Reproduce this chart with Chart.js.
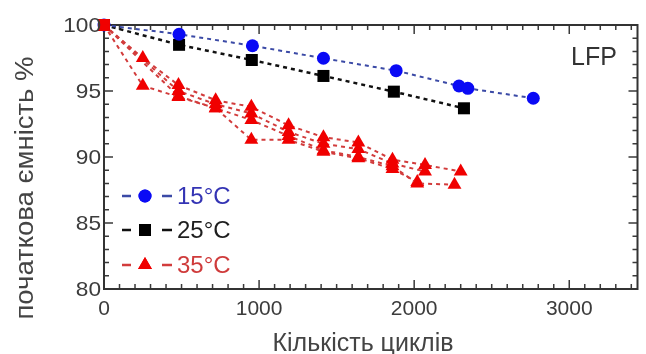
<!DOCTYPE html>
<html><head><meta charset="utf-8">
<script src="https://cdn.jsdelivr.net/npm/chart.js@4.4.0/dist/chart.umd.min.js"></script>
<style>html,body{margin:0;padding:0;background:#fff;overflow:hidden}#wrap{width:646px;height:354px}</style>
</head><body><div id="wrap"><canvas id="c" width="646" height="354"></canvas></div>
<script>
// ---- data ----
const xTicks = [0, 1000, 2000, 3000];
const yTicks = [80, 85, 90, 95, 100];
const xTitle = 'Кількість циклів';
const yTitle = 'початкова ємність %';
const annotation = 'LFP';
const seriesNames = ['15°C', '25°C', '35°C'];

const cycles15 = [0, 484, 957, 1415, 1884, 2289, 2346, 2768];
const cap15    = [100, 99.3, 98.43, 97.48, 96.54, 95.38, 95.2, 94.45];

const cycles25 = [0, 484, 953, 1415, 1869, 2321];
const cap25    = [100, 98.5, 97.35, 96.14, 94.95, 93.69];

const cycles35a = [0, 250, 480, 720, 950, 1190, 1415, 1640, 1860, 2070, 2300];
const cap35a    = [100, 97.5, 95.45, 94.3, 93.8, 92.4, 91.5, 91.1, 89.8, 89.4, 88.9];
const cycles35b = [0, 480, 720, 950, 1190, 1415, 1640, 1860, 2070];
const cap35b    = [100, 95.0, 94.0, 93.3, 91.9, 91.0, 90.6, 89.5, 88.9];
const cycles35c = [0, 250, 480, 720, 950, 1190, 1415, 1640, 1860, 2020, 2260];
const cap35c    = [100, 95.4, 94.55, 93.7, 92.8, 91.6, 90.5, 90.0, 89.3, 88.0, 87.9];
const cycles35d = [0, 480, 720, 950, 1190, 1415, 1640, 1860, 2020];
const cap35d    = [100, 94.6, 93.7, 91.3, 91.3, 90.4, 89.9, 89.1, 88.1];

const X_MIN = 0, X_MAX = 3440, Y_MIN = 80, Y_MAX = 100;

// ---- styles ----
const BLUE = '#0a0af5', BLUE_LINE = '#3b4aa6';
const BLACK = '#000000', BLACK_LINE = '#111111';
const RED = '#f00000', RED_LINE = '#d23c3c';
const FONT = '"Liberation Sans", Arial, sans-serif';

function pts(xs, ys) { return xs.map((x, i) => ({x: x, y: ys[i]})); }

function redSet(xs, ys) {
  return {
    data: pts(xs, ys), borderColor: RED_LINE, backgroundColor: RED,
    borderWidth: 2, borderDash: [4, 4], showLine: true, clip: false, order: 1,
    pointStyle: c => c.dataIndex === 0 ? 'rect' : 'triangle',
    pointRadius: c => c.dataIndex === 0 ? 8 : 8,
    pointBorderWidth: 0, pointBorderColor: RED
  };
}

const datasets = [
  {data: pts(cycles15, cap15), borderColor: BLUE_LINE, backgroundColor: BLUE, borderWidth: 2,
   borderDash: [4, 4], showLine: true, clip: false, order: 2, pointStyle: 'circle', pointRadius: 6.5,
   pointBorderWidth: 0},
  {data: pts(cycles25, cap25), borderColor: BLACK_LINE, backgroundColor: BLACK, borderWidth: 2.5,
   borderDash: [4, 4], showLine: true, clip: false, order: 3, pointStyle: 'rect', pointRadius: 8.5,
   pointBorderWidth: 0},
  redSet(cycles35a, cap35a), redSet(cycles35b, cap35b), redSet(cycles35c, cap35c), redSet(cycles35d, cap35d)
];

function txt(ctx, s, x, y, size, color, align, baseline, rot, sx) {
  ctx.save(); ctx.translate(x, y); if (rot) ctx.rotate(rot); if (sx) ctx.scale(sx, 1);
  ctx.font = size + 'px ' + FONT; ctx.fillStyle = color; ctx.textAlign = align; ctx.textBaseline = baseline;
  ctx.fillText(s, 0, 0); ctx.restore();
}

const framePlugin = {
  id: 'frame',
  beforeDatasetsDraw(chart) {
    const ctx = chart.ctx, a = chart.chartArea, xs = chart.scales.x, ys = chart.scales.y;
    ctx.save();
    ctx.strokeStyle = '#3a3a3a'; ctx.lineWidth = 1.5;
    for (let v = 100; v < X_MAX; v += 100) {
      const px = xs.getPixelForValue(v); const major = v % 1000 === 0; const L = major ? 9 : 5;
      ctx.beginPath(); ctx.moveTo(px, a.bottom); ctx.lineTo(px, a.bottom - L);
      ctx.moveTo(px, a.top); ctx.lineTo(px, a.top + L); ctx.stroke();
    }
    for (let v = 81; v < Y_MAX; v += 1) {
      const py = ys.getPixelForValue(v); const major = v % 5 === 0; const L = major ? 9 : 5;
      ctx.beginPath(); ctx.moveTo(a.left, py); ctx.lineTo(a.left + L, py);
      ctx.moveTo(a.right, py); ctx.lineTo(a.right - L, py); ctx.stroke();
    }
    ctx.lineWidth = 2; ctx.strokeStyle = '#333';
    ctx.strokeRect(a.left, a.top, a.right - a.left, a.bottom - a.top);
    ctx.restore();
  },
  afterDraw(chart) {
    const ctx = chart.ctx, a = chart.chartArea, xs = chart.scales.x, ys = chart.scales.y;
    const TC = '#3c3c3c';
    yTicks.forEach(v => txt(ctx, String(v), a.left - 3, ys.getPixelForValue(v) + 1, 21, TC, 'right', 'middle', 0, 1.08));
    xTicks.forEach(v => txt(ctx, String(v), xs.getPixelForValue(v), a.bottom + 10, 21, TC, 'center', 'top'));
    txt(ctx, xTitle, 363, 351, 25, '#444', 'center', 'alphabetic');
    txt(ctx, yTitle, 33, 188, 25, '#444', 'center', 'alphabetic', -Math.PI / 2, 1.1);
    txt(ctx, annotation, 594, 65, 25, '#333', 'center', 'alphabetic');
    // legend
    const rows = [
      {y: 196, col: BLUE, line: BLUE_LINE, tc: '#3434b4', style: 'circle', r: 6.5},
      {y: 230, col: BLACK, line: BLACK_LINE, tc: '#1e1e1e', style: 'rect', r: 8.5},
      {y: 265, col: RED, line: RED_LINE, tc: '#cf3b3b', style: 'triangle', r: 8}
    ];
    rows.forEach((r, i) => {
      ctx.save(); ctx.strokeStyle = r.line; ctx.lineWidth = 2.5;
      ctx.beginPath(); ctx.moveTo(122, r.y); ctx.lineTo(131, r.y);
      ctx.moveTo(162, r.y); ctx.lineTo(172, r.y); ctx.stroke(); ctx.restore();
      ctx.save(); ctx.fillStyle = r.col;
      Chart.helpers.drawPoint(ctx, {pointStyle: r.style, radius: r.r, borderWidth: 0}, 145, r.y);
      ctx.fill(); ctx.restore();
      txt(ctx, seriesNames[i], 177, r.y + 1, 24, r.tc, 'left', 'middle');
    });
  }
};

new Chart(document.getElementById('c'), {
  type: 'scatter',
  data: {datasets: datasets},
  options: {
    responsive: false, animation: false, devicePixelRatio: 1,
    layout: {padding: {top: 25, right: 4, left: 0, bottom: 0}},
    plugins: {legend: {display: false}, tooltip: {enabled: false}},
    scales: {
      x: {type: 'linear', min: X_MIN, max: X_MAX, grid: {display: false}, border: {display: false},
          ticks: {display: false}, afterFit: s => { s.height = 65; }},
      y: {type: 'linear', min: Y_MIN, max: Y_MAX, grid: {display: false}, border: {display: false},
          ticks: {display: false}, afterFit: s => { s.width = 104; }}
    }
  },
  plugins: [framePlugin]
});
</script></body></html>
